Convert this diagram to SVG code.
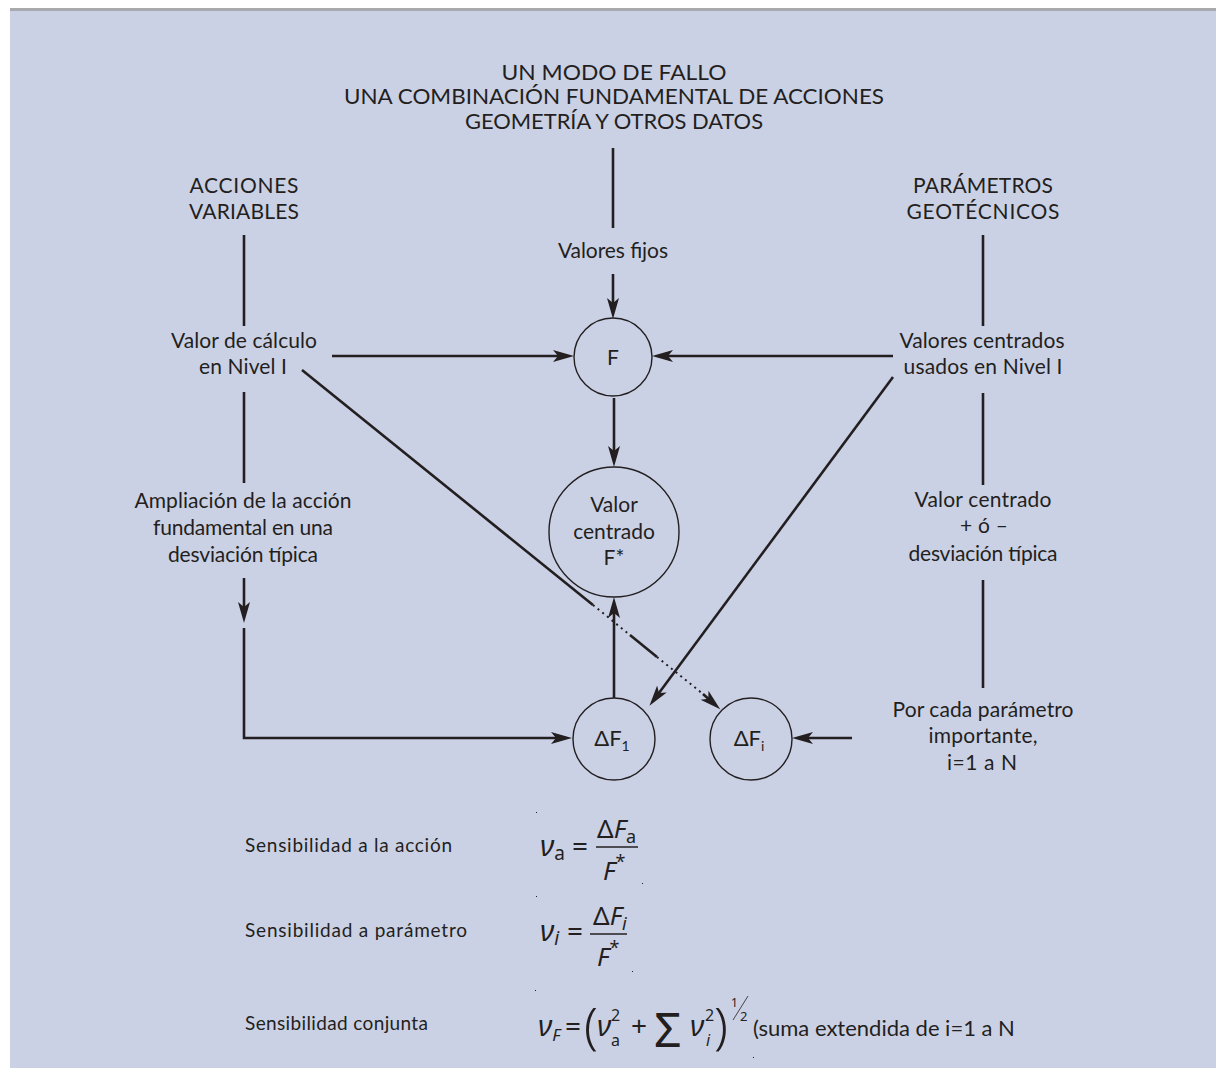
<svg xmlns="http://www.w3.org/2000/svg" width="1216" height="1068" viewBox="0 0 1216 1068">
<defs>
<marker id="ah" markerUnits="userSpaceOnUse" markerWidth="23" markerHeight="14" refX="10" refY="7" orient="auto">
<path d="M0,1 L21,7 L0,13 L5,7 z" fill="#231f20"/>
</marker>
<style>
.t{font-family:Lato,'Noto Sans','DejaVu Sans',sans-serif;fill:#231f20;font-size:21px;text-anchor:middle}
.h{font-size:21px}
.d{font-size:22px}
.s{font-family:Lato,'Noto Sans','DejaVu Sans',sans-serif;fill:#231f20;font-size:19px}
.b{font-size:22px}
.m{font-family:'Noto Sans','DejaVu Sans',sans-serif;fill:#231f20}
.i{font-style:italic}
.ln{stroke:#231f20;stroke-width:2.6;fill:none}
.dot{stroke:#231f20;stroke-width:2;fill:none;stroke-dasharray:2 4}
.arr{marker-end:url(#ah)}
.nd{fill:none;stroke:#231f20;stroke-width:1.4}
</style>
</defs>
<rect x="0" y="0" width="1216" height="1068" fill="#ffffff"/>
<rect x="10" y="11" width="1206" height="1057" fill="#cbd1e5"/>
<rect x="10" y="8" width="1206" height="3" fill="#a9aaae"/>

<g id="titles">
<text class="t h" x="614" y="80" textLength="225" lengthAdjust="spacingAndGlyphs">UN MODO DE FALLO</text>
<text class="t h" x="614" y="104" textLength="540" lengthAdjust="spacingAndGlyphs">UNA COMBINACIÓN FUNDAMENTAL DE ACCIONES</text>
</g>
<g id="geometria"><text class="t h" x="614" y="129" textLength="298" lengthAdjust="spacingAndGlyphs">GEOMETRÍA Y OTROS DATOS</text></g>
<g id="valores-fijos"><text class="t" x="613" y="258" textLength="110">Valores fijos</text></g>

<g id="acciones-variables">
<text class="t" x="244" y="193" textLength="109">ACCIONES</text>
<text class="t" x="244" y="219" textLength="110">VARIABLES</text>
</g>
<g id="valor-calculo">
<text class="t" x="244" y="348" textLength="146">Valor de cálculo</text>
<text class="t" x="243" y="374" textLength="88">en Nivel I</text>
</g>
<g id="ampliacion">
<text class="t" x="243" y="508" textLength="217">Ampliación de la acción</text>
<text class="t" x="243" y="535" textLength="180">fundamental en una</text>
<text class="t" x="243" y="562" textLength="150">desviación típica</text>
</g>

<g id="parametros">
<text class="t" x="983" y="193" textLength="140">PARÁMETROS</text>
<text class="t" x="983" y="219" textLength="153">GEOTÉCNICOS</text>
</g>
<g id="valores-centrados">
<text class="t" x="982" y="348" textLength="165">Valores centrados</text>
<text class="t" x="983" y="374" textLength="159">usados en Nivel I</text>
</g>
<g id="valor-centrado-desv">
<text class="t" x="983" y="507" textLength="137">Valor centrado</text>
<text class="t" x="984" y="533" textLength="48">+ ó –</text>
<text class="t" x="983" y="561" textLength="149">desviación típica</text>
</g>
<g id="por-cada">
<text class="t" x="983" y="717" textLength="181">Por cada parámetro</text>
<text class="t" x="983" y="743" textLength="109">importante,</text>
<text class="t" x="982" y="770" textLength="70">i=1 a N</text>
</g>

<g id="node-F">
<circle class="nd" cx="613" cy="357" r="39"/>
<text class="t" x="613" y="365">F</text>
</g>
<g id="node-Fstar">
<circle class="nd" cx="614" cy="532" r="65"/>
<text class="t" x="614" y="512">Valor</text>
<text class="t" x="614" y="539">centrado</text>
<text class="t" x="614" y="565">F*</text>
</g>
<g id="node-dF1">
<circle class="nd" cx="614" cy="739" r="41"/>
<text class="t d" x="612" y="746">ΔF<tspan style="font-size:14px" dy="5">1</tspan></text>
</g>
<g id="node-dFi">
<circle class="nd" cx="751" cy="739" r="41"/>
<text class="t d" x="749" y="746">ΔF<tspan style="font-size:14px" dy="5">i</tspan></text>
</g>

<g id="connectors">
<path class="ln" d="M613,148 V228"/>
<path class="ln" d="M244,235 V326"/>
<path class="ln" d="M244,392 V483"/>
<path class="ln" d="M983,235 V326"/>
<path class="ln" d="M983,393 V485"/>
<path class="ln" d="M983,580 V688"/>
<path class="ln arr" d="M613,274 V308"/>
<path class="ln arr" d="M332,356 H563"/>
<path class="ln arr" d="M893,356 H663"/>
<path class="ln arr" d="M614,398 V456"/>
<path class="ln arr" d="M614,698 V608"/>
<path class="ln arr" d="M244,578 V612"/>
<path class="ln arr" d="M244,628 V738 H561"/>
<path class="ln arr" d="M852,738 H803"/>
<path class="ln arr" d="M893,377 L656,697"/>
<path class="ln" d="M302,370 L593,605"/>
<path class="dot" d="M593,605 L630,635"/>
<path class="ln" d="M630,635 L657,657"/>
<path class="dot" d="M657,657 L703,694"/>
<path class="ln arr" d="M703,694 L712,702"/>
</g>

<g id="sens-accion">
<text class="s" x="245" y="852" textLength="207">Sensibilidad a la acción</text>
<text class="m i" x="540" y="856" font-size="30">ν<tspan font-style="normal" font-size="19" dy="4">a</tspan></text>
<text class="m" x="572" y="856" font-size="28">=</text>
<text class="m" x="597" y="838" font-size="26">Δ<tspan font-style="italic">F</tspan><tspan font-size="18" dy="5">a</tspan></text>
<line x1="596" y1="847" x2="638" y2="847" stroke="#231f20" stroke-width="1.5"/>
<text class="m i" x="603" y="880" font-size="26">F<tspan font-style="normal" font-size="18" dy="-12">*</tspan></text>
</g>
<g id="sens-parametro">
<text class="s" x="245" y="937" textLength="222">Sensibilidad a parámetro</text>
<text class="m i" x="540" y="941" font-size="30">ν<tspan font-size="19" dy="4">i</tspan></text>
<text class="m" x="567" y="941" font-size="28">=</text>
<text class="m" x="593" y="925" font-size="26">Δ<tspan font-style="italic">F</tspan><tspan font-style="italic" font-size="18" dy="5">i</tspan></text>
<line x1="590" y1="934" x2="627" y2="934" stroke="#231f20" stroke-width="1.5"/>
<text class="m i" x="597" y="966" font-size="26">F<tspan font-style="normal" font-size="18" dy="-12">*</tspan></text>
</g>
<g id="sens-conjunta">
<text class="s" x="245" y="1030" textLength="183">Sensibilidad conjunta</text>
<text class="m i" x="538" y="1036" font-size="30">ν<tspan font-size="17" dy="5">F</tspan></text>
<text class="m" x="565" y="1036" font-size="28">=</text>
<text class="m" x="584" y="1044" font-size="50" font-weight="300">(</text>
<text class="m i" x="597" y="1036" font-size="30">ν</text>
<text class="m" x="611" y="1021" font-size="16">2</text>
<text class="m" x="611" y="1046" font-size="16">a</text>
<text class="m" x="631" y="1036" font-size="28">+</text>
<text class="m" x="654" y="1047" font-size="48">Σ</text>
<text class="m i" x="690" y="1036" font-size="30">ν</text>
<text class="m" x="705" y="1021" font-size="16">2</text>
<text class="m i" x="706" y="1046" font-size="16">i</text>
<text class="m" x="714" y="1044" font-size="50" font-weight="300">)</text>
<text class="m" x="731" y="1007" font-size="12">1</text>
<line x1="733" y1="1020" x2="748" y2="996" stroke="#231f20" stroke-width="0.8"/>
<text class="m" x="740" y="1021" font-size="13">2</text>
<text class="s b" x="753" y="1036">(suma extendida de i=1 a N</text>
</g>
<g id="marks" fill="#231f20">
<rect x="536" y="812" width="1" height="1"/>
<rect x="642" y="883" width="1" height="1"/>
<rect x="536" y="896" width="1" height="1"/>
<rect x="632" y="971" width="1" height="1"/>
<rect x="535" y="990" width="1" height="1"/>
<rect x="753" y="1057" width="1" height="1"/>
</g>
</svg>
